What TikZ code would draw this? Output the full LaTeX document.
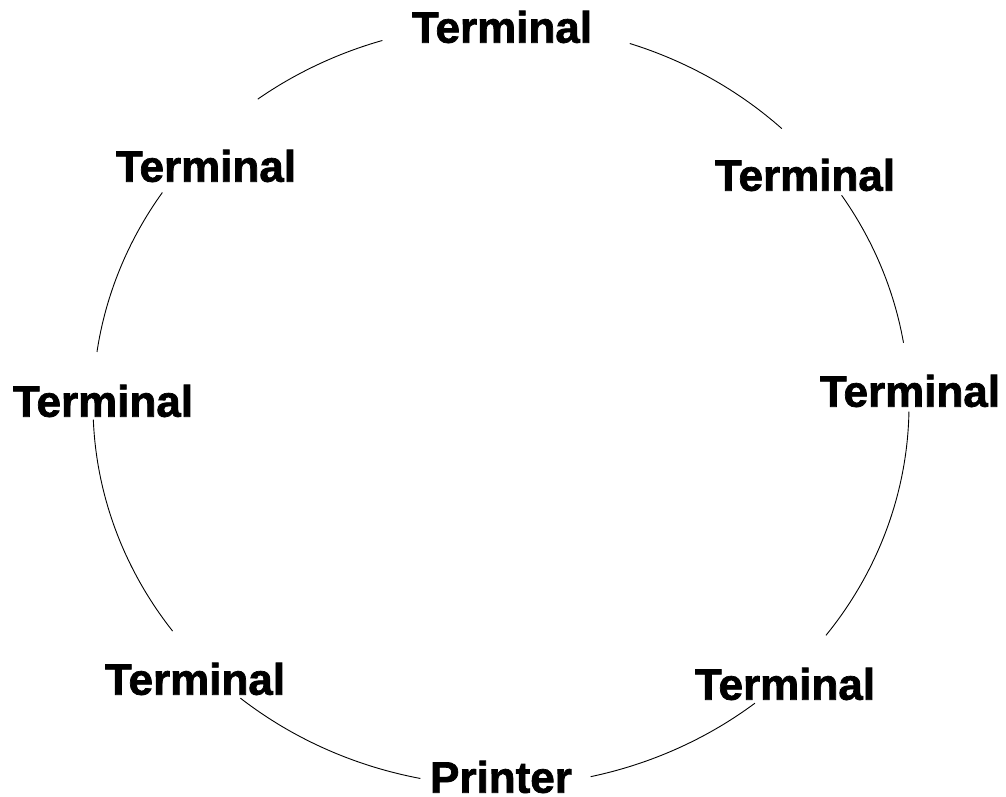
\documentclass[tikz,border=0pt]{standalone}
\usepackage{fontspec}
\setmainfont{Liberation Sans}[BoldFeatures={FakeBold=1.6}]
\begin{document}
\begin{tikzpicture}[x=1pt,y=1pt,
  lbl/.style={inner sep=0pt, font=\fontsize{44}{50}\selectfont\bfseries},
  ring/.style={draw=black, line width=0.9pt}]
\useasboundingbox[fill=white] (0,0) rectangle (1006,796);
\coordinate (c) at (501,391);
% labels
\node[lbl] (t1) at (502,769) {Terminal};
\node[lbl] (t2) at (805,621) {Terminal};
\node[lbl] (t3) at (910,405) {Terminal};
\node[lbl] (t4) at (785,112) {Terminal};
\node[lbl] (pr) at (501,19) {Printer};
\node[lbl] (t5) at (195,117) {Terminal};
\node[lbl] (t6) at (103,395) {Terminal};
\node[lbl] (t7) at (206,630) {Terminal};
% ring arcs between the labels
\draw[ring] ([shift={(71.6:408pt and 381pt)}]c) arc[start angle=71.6, end angle=46.5, x radius=408pt, y radius=381pt];
\draw[ring] ([shift={(33.4:408pt and 381pt)}]c) arc[start angle=33.4, end angle=9.4, x radius=408pt, y radius=381pt];
\draw[ring] ([shift={(-1:408pt and 381pt)}]c) arc[start angle=-1, end angle=-37.2, x radius=408pt, y radius=381pt];
\draw[ring] ([shift={(-51.5:408pt and 381pt)}]c) arc[start angle=-51.5, end angle=-77.3, x radius=408pt, y radius=381pt];
\draw[ring] ([shift={(258.6:408pt and 381pt)}]c) arc[start angle=258.6, end angle=230.3, x radius=408pt, y radius=381pt];
\draw[ring] ([shift={(216.4:408pt and 381pt)}]c) arc[start angle=216.4, end angle=182.2, x radius=408pt, y radius=381pt];
\draw[ring] ([shift={(172:408pt and 381pt)}]c) arc[start angle=172, end angle=146.1, x radius=408pt, y radius=381pt];
\draw[ring] ([shift={(126.6:408pt and 381pt)}]c) arc[start angle=126.6, end angle=106.9, x radius=408pt, y radius=381pt];
\end{tikzpicture}
\end{document}
